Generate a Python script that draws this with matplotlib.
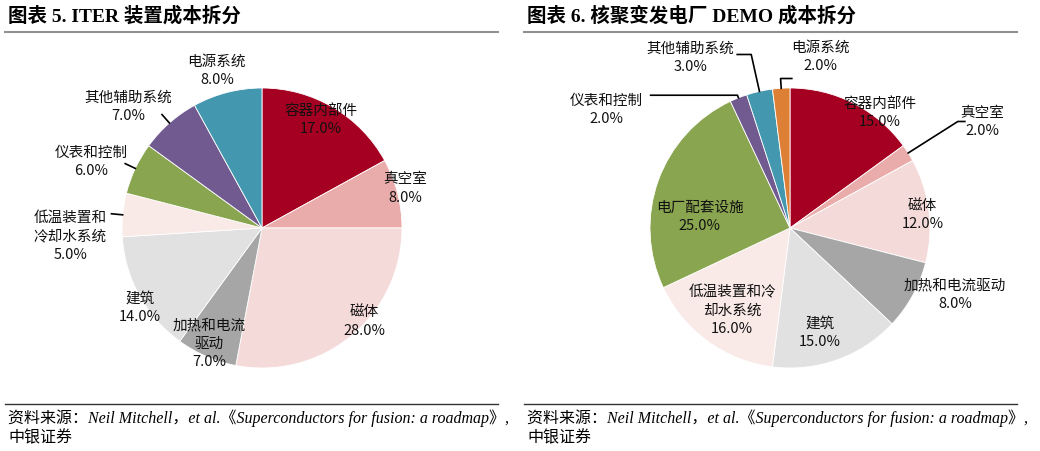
import numpy as np
import matplotlib
matplotlib.use("Agg")
import matplotlib.pyplot as plt

plt.rcParams['font.family'] = ['Noto Sans CJK SC', 'DejaVu Sans']

# ---- data ----
iter_names = ['容器内部件', '真空室', '磁体', '加热和电流驱动', '建筑',
              '低温装置和冷却水系统', '仪表和控制', '其他辅助系统', '电源系统']
iter_text = ['容器内部件', '真空室', '磁体', '加热和电流\n驱动', '建筑',
             '低温装置和\n冷却水系统', '仪表和控制', '其他辅助系统', '电源系统']
iter_vals = [17, 8, 28, 7, 14, 5, 6, 7, 8]

demo_names = ['容器内部件', '真空室', '磁体', '加热和电流驱动', '建筑',
              '低温装置和冷却水系统', '电厂配套设施', '仪表和控制', '其他辅助系统', '电源系统']
demo_text = ['容器内部件', '真空室', '磁体', '加热和电流驱动', '建筑',
             '低温装置和冷\n却水系统', '电厂配套设施', '仪表和控制', '其他辅助系统', '电源系统']
demo_vals = [15, 2, 12, 8, 15, 16, 25, 2, 3, 2]

col = {'容器内部件': '#A50021', '真空室': '#EAACAA', '磁体': '#F5DADA',
       '加热和电流驱动': '#A6A6A6', '建筑': '#E1E1E1', '低温装置和冷却水系统': '#F9EAE8',
       '电厂配套设施': '#8AA54F', '仪表和控制': '#705A90', '其他辅助系统': '#4398AF',
       '电源系统': '#DD7F35'}
col_iter = dict(col, 仪表和控制='#8AA54F', 其他辅助系统='#705A90', 电源系统='#4398AF')

# label placement: (radius factor, angle shift in degrees)
iter_lab = [(0.88, 2), (1.06, 1), (0.99, 8), (0.91, -1), (1.04, 4.5),
            (1.37, 8), (1.31, 4), (1.29, 6.6), (1.17, 1.6)]
demo_lab = [(1.04, -11), (1.57, -3.6), (0.95, -1.6), (1.27, 6.8), (0.78, -3.8),
            (0.72, 1), (0.65, 12.8), (1.56, 35.6), (1.41, 17.7), (1.24, -13.6)]
# leader lines: (elbow radius, horizontal run) or None
iter_lead = [None, None, None, None, None, (1.0, 0), (1.0, 0), (1.0, 0), None]
demo_lead = [None, (1.42, 0.05), None, None, None, None, None,
             (1.02, -0.62), (1.27, -0.1), (1.07, 0.08)]

W, H = 1040, 451
fig = plt.figure(figsize=(W / 100, H / 100), dpi=100)


def draw_pie(px0, cx, names, texts, vals, colors, labs, leads):
    R = 140.0
    ax = fig.add_axes([px0 / W, 1 - 400 / H, 520 / W, 360 / H])
    wedges, _ = ax.pie(vals, colors=[colors[n] for n in names], startangle=90,
                       counterclock=False,
                       wedgeprops=dict(edgecolor='white', linewidth=0.6))
    ax.set_xlim((px0 - cx) / R, (px0 + 520 - cx) / R)
    ax.set_ylim(-(400 - 228) / R, (228 - 40) / R)
    for w, t, v, (rf, da), ld in zip(wedges, texts, vals, labs, leads):
        mid = np.deg2rad((w.theta1 + w.theta2) / 2)
        a = mid + np.deg2rad(da)
        ax.text(rf * np.cos(a), rf * np.sin(a), f'{t}\n{v:.1f}%',
                ha='center', va='center', fontsize=10.5, linespacing=1.4,
                color='#111111')
        if ld is not None:
            r_out, run = ld
            r_out = max(r_out, 1.0)
            x0, y0 = np.cos(mid), np.sin(mid)
            if r_out == 1.0:
                # short tick sticking out of the wedge toward the label
                x1, y1 = 1.08 * np.cos(mid), 1.08 * np.sin(mid)
                ax.plot([x0, x1], [y0, y1], color='black', lw=1.2)
            else:
                x1, y1 = r_out * x0, r_out * y0
                ax.plot([x0, x1, x1 + run], [y0, y1, y1], color='black', lw=1.2)
    return ax


draw_pie(0, 262, iter_names, iter_text, iter_vals, col_iter, iter_lab, iter_lead)
draw_pie(520, 790, demo_names, demo_text, demo_vals, col, demo_lab, demo_lead)

# titles, rules, sources
title_font = ['Liberation Serif', 'Noto Sans CJK SC']
for x0, title in [(8, '图表 5. ITER 装置成本拆分'), (527, '图表 6. 核聚变发电厂 DEMO 成本拆分')]:
    fig.text(x0 / W, 1 - 16 / H, title, fontsize=14, fontweight='bold',
             family=title_font, ha='left', va='center')
    fig.add_artist(plt.Line2D([(x0 - 3) / W, (x0 + 490) / W], [1 - 32 / H] * 2,
                              color='#909090', lw=1.5))
    fig.add_artist(plt.Line2D([(x0 - 3) / W, (x0 + 490) / W], [1 - 404 / H] * 2,
                              color='#333333', lw=1.0))
    fig.text(x0 / W, 1 - 418 / H,
             '资料来源：Neil Mitchell，et al.《Superconductors for fusion: a roadmap》,',
             fontsize=11.5, style='italic', family=title_font, ha='left', va='center')
    fig.text(x0 / W, 1 - 438 / H, '中银证券', fontsize=11.5, style='italic',
             family=title_font, ha='left', va='center')

fig.savefig('out.png', dpi=100, facecolor='white')
